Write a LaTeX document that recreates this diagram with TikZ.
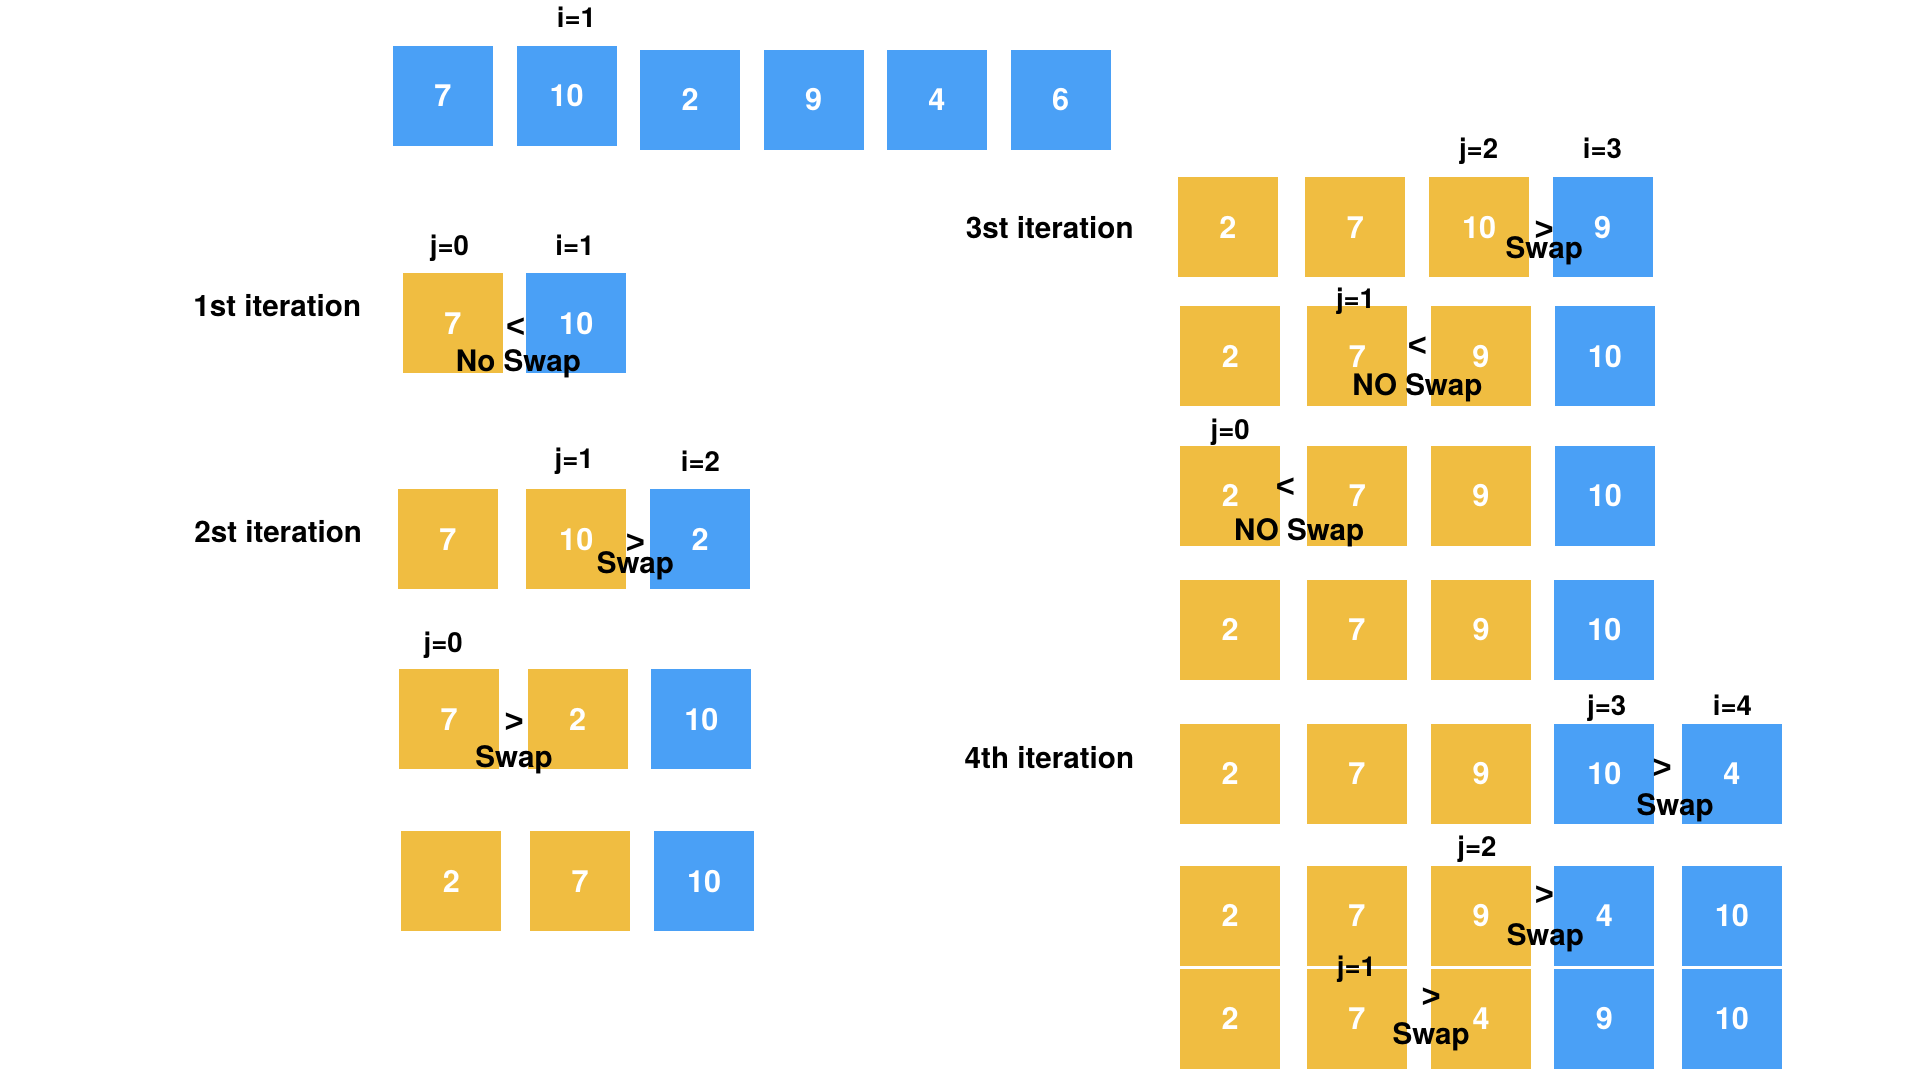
\documentclass[tikz,border=0pt]{standalone}
\usepackage{fontspec}
\setmainfont{TeX Gyre Heros}
\newfontfamily\signfont{Liberation Sans}
\definecolor{kyellow}{HTML}{F0BD41}
\definecolor{kblue}{HTML}{4AA0F6}
\begin{document}
\begin{tikzpicture}[x=0.6pt,y=-0.6pt,
  cell/.style={minimum width=49pt,minimum height=49pt,inner sep=0pt,text=white,
    font=\fontsize{15}{17}\selectfont\bfseries,text height=10.8pt,text depth=0pt},
  yc/.style={cell,fill=kyellow},
  bc/.style={cell,fill=kblue},
  idx/.style={font=\fontsize{13.5}{15}\selectfont\bfseries,inner sep=0pt,text height=9.7pt,text depth=0pt},
  itl/.style={font=\fontsize{14.5}{16}\selectfont\bfseries,inner sep=0pt,text height=10.4pt,text depth=0pt},
  cmpsign/.style={font=\signfont\fontsize{16}{18}\selectfont\bfseries,inner sep=0pt,text height=11pt,text depth=0pt}]
\useasboundingbox[fill=white] (0,0) rectangle (1568,882);

% top row
\node[bc] (t1) at (361.6,78.3) {7};
\node[bc] (t2) at (462.8,78.3) {10};
\node[bc] (t3) at (563.7,81.4) {2};
\node[bc] (t4) at (664.4,81.4) {9};
\node[bc] (t5) at (765.2,81.4) {4};
\node[bc] (t6) at (866.1,81.4) {6};
\node[idx] (ti) at (470.7,14.5) {i=1};

% 1st iteration
\node[itl] (l1) at (226.4,250.2) {1st iteration};
\node[yc] (a1) at (369.8,264.1) {7};
\node[bc] (a2) at (470.6,264.1) {10};
\node[idx] (aj) at (367,200.8) {j=0};
\node[idx] (ai) at (469.6,200.9) {i=1};
\node[cmpsign] (ac) at (421.1,266.8) {<};
\node[itl] (as) at (423.3,295) {No Swap};

% 2st iteration
\node[itl] (l2) at (227.2,434.2) {2st iteration};
\node[yc] (b1) at (365.8,440.3) {7};
\node[yc] (b2) at (470.6,440.3) {10};
\node[bc] (b3) at (571.7,440.3) {2};
\node[idx] (bj) at (468.9,374.3) {j=1};
\node[idx] (bi) at (572,377) {i=2};
\node[cmpsign] (bc1) at (518.9,442.9) {>};
\node[itl] (bs) at (518.9,460) {Swap};

\node[yc] (c1) at (366.7,587.2) {7};
\node[yc] (c2) at (471.8,587.2) {2};
\node[bc] (c3) at (572.8,587.2) {10};
\node[idx] (cj) at (362,524.8) {j=0};
\node[cmpsign] (cc) at (419.8,589.4) {>};
\node[itl] (cs) at (419.8,618) {Swap};

\node[yc] (d1) at (368.7,719.7) {2};
\node[yc] (d2) at (473.7,719.7) {7};
\node[bc] (d3) at (575,719.7) {10};

% 3st iteration
\node[itl] (l3) at (857.3,186.5) {3st iteration};
\node[yc] (e1) at (1002.8,185.4) {2};
\node[yc] (e2) at (1106.9,185.4) {7};
\node[yc] (e3) at (1207.9,185.4) {10};
\node[bc] (e4) at (1308.8,185.4) {9};
\node[idx] (ej) at (1207.5,121.1) {j=2};
\node[idx] (ei) at (1308.7,121.1) {i=3};
\node[cmpsign] (ec) at (1261.1,187) {>};
\node[itl] (es) at (1261.1,202.8) {Swap};

\node[yc] (f1) at (1004.8,291) {2};
\node[yc] (f2) at (1108.5,291) {7};
\node[yc] (f3) at (1209.4,291) {9};
\node[bc] (f4) at (1310.6,291) {10};
\node[idx] (fj) at (1107,243.6) {j=1};
\node[cmpsign] (fc) at (1157.6,281.8) {<};
\node[itl] (fs) at (1157.5,314.4) {NO Swap};

\node[yc] (g1) at (1004.8,404.7) {2};
\node[yc] (g2) at (1108.5,404.7) {7};
\node[yc] (g3) at (1209.4,404.7) {9};
\node[bc] (g4) at (1310.6,404.7) {10};
\node[idx] (gj) at (1004.7,351.2) {j=0};
\node[cmpsign] (gc) at (1049.7,397.5) {<};
\node[itl] (gs) at (1061,432.6) {NO Swap};

\node[yc] (h1) at (1004.6,514.2) {2};
\node[yc] (h2) at (1108.2,514.2) {7};
\node[yc] (h3) at (1209.5,514.2) {9};
\node[bc] (h4) at (1310.3,514.2) {10};

% 4th iteration
\node[itl] (l4) at (857,619) {4th iteration};
\node[yc] (k1) at (1004.6,631.9) {2};
\node[yc] (k2) at (1108.2,631.9) {7};
\node[yc] (k3) at (1209.5,631.9) {9};
\node[bc] (k4) at (1310.3,631.9) {10};
\node[bc] (k5) at (1414.4,631.9) {4};
\node[idx] (kj) at (1312.1,576.2) {j=3};
\node[idx] (ki) at (1414.8,576.2) {i=4};
\node[cmpsign] (kc) at (1357.5,626.9) {>};
\node[itl] (ks) at (1368,657.3) {Swap};

\node[yc] (m1) at (1004.6,747.8) {2};
\node[yc] (m2) at (1108.2,747.8) {7};
\node[yc] (m3) at (1209.5,747.8) {9};
\node[bc] (m4) at (1310.3,747.8) {4};
\node[bc] (m5) at (1414.4,747.8) {10};
\node[idx] (mj) at (1206.2,691.6) {j=2};
\node[cmpsign] (mc) at (1261.3,730.2) {>};
\node[itl] (ms) at (1262,763.4) {Swap};

\node[yc] (n1) at (1004.6,832) {2};
\node[yc] (n2) at (1108.2,832) {7};
\node[yc] (n3) at (1209.5,832) {4};
\node[bc] (n4) at (1310.3,832) {9};
\node[bc] (n5) at (1414.4,832) {10};
\node[idx] (nj) at (1107.7,789) {j=1};
\node[cmpsign] (nc) at (1168.7,813.3) {>};
\node[itl] (ns) at (1168.7,844.5) {Swap};
\end{tikzpicture}
\end{document}
